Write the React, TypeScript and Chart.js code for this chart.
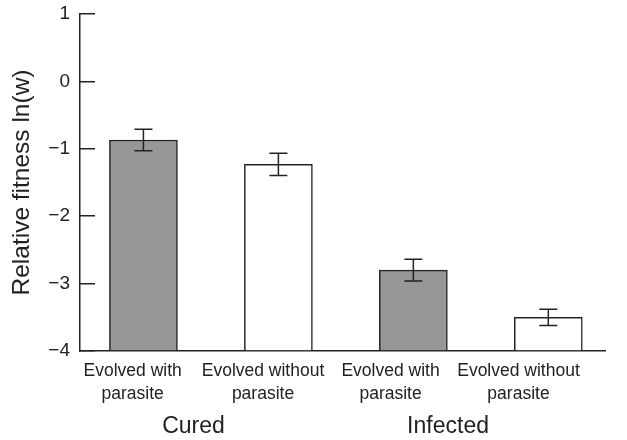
import React, { useEffect, useRef } from "react";
import { Chart, registerables } from "chart.js";

Chart.register(...registerables);

// ---- data ----
const barPositions = [0, 1, 2, 3];
const barLabels = [
  ["Evolved with", "parasite"],
  ["Evolved without", "parasite"],
  ["Evolved with", "parasite"],
  ["Evolved without", "parasite"],
];
const labelPositions = [-0.08, 0.886, 1.831, 2.779];
const groupLabels = ["Cured", "Infected"];
const groupPositions = [0.371, 2.257];
const fitness = [-0.87, -1.23, -2.8, -3.5];
const fitnessErr = [0.16, 0.165, 0.16, 0.12];
const barColors = ["#979797", "#ffffff", "#979797", "#ffffff"];
const yTicks = [-4, -3, -2, -1, 0, 1];

const FONT = "'Liberation Sans', Arial, Helvetica, sans-serif";
const INK = "#222222";

const errorBarPlugin = {
  id: "errorBars",
  afterDatasetsDraw(chart: any) {
    const xs = chart.scales.x;
    const ys = chart.scales.y;
    const ctx = chart.ctx;
    ctx.save();
    ctx.strokeStyle = INK;
    ctx.lineWidth = 1.5;
    const cap = 9;
    fitness.forEach((v, i) => {
      const x = xs.getPixelForValue(barPositions[i]);
      const y1 = ys.getPixelForValue(v + fitnessErr[i]);
      const y2 = ys.getPixelForValue(v - fitnessErr[i]);
      ctx.beginPath();
      ctx.moveTo(x, y1);
      ctx.lineTo(x, y2);
      ctx.moveTo(x - cap, y1);
      ctx.lineTo(x + cap, y1);
      ctx.moveTo(x - cap, y2);
      ctx.lineTo(x + cap, y2);
      ctx.stroke();
    });
    ctx.restore();
  },
};

export default function App() {
  const ref = useRef<HTMLCanvasElement | null>(null);
  useEffect(() => {
    document.body.style.margin = "0";
    const canvas = ref.current!;
    const chart = new Chart(canvas, {
      type: "bar",
      data: {
        datasets: [
          {
            data: fitness.map((v, i) => ({ x: barPositions[i], y: v })),
            base: -4,
            backgroundColor: barColors,
            borderColor: INK,
            borderWidth: 1.5,
            barThickness: 68,
          } as any,
        ],
      },
      options: {
        responsive: false,
        animation: false,
        layout: { padding: { top: 14, right: 22, left: 0, bottom: 0 } },
        plugins: {
          legend: { display: false },
          tooltip: { enabled: false },
        },
        scales: {
          x: {
            type: "linear",
            position: "bottom",
            offset: false,
            weight: 0,
            min: -0.47,
            max: 3.42,
            grid: { display: false, drawTicks: false, offset: false },
            border: { display: true, color: INK, width: 1.5 },
            afterBuildTicks: (s: any) => {
              s.ticks = labelPositions.map((v) => ({ value: v }));
            },
            afterFit: (s: any) => {
              s.height = 55;
              s.paddingLeft = 0;
              s.paddingRight = 0;
            },
            ticks: {
              autoSkip: false,
              maxRotation: 0,
              padding: 8.5,
              color: INK,
              font: { family: FONT, size: 17.5, lineHeight: 23 / 17.5 },
              callback: (_v: any, i: number) => barLabels[i],
            },
          },
          x2: {
            type: "linear",
            position: "bottom",
            offset: false,
            weight: 1,
            min: -0.47,
            max: 3.42,
            grid: { display: false, drawTicks: false, offset: false },
            border: { display: false },
            afterBuildTicks: (s: any) => {
              s.ticks = groupPositions.map((v) => ({ value: v }));
            },
            afterFit: (s: any) => {
              s.height = 34;
              s.paddingLeft = 0;
              s.paddingRight = 0;
            },
            ticks: {
              autoSkip: false,
              maxRotation: 0,
              padding: 7,
              color: INK,
              font: { family: FONT, size: 23 },
              callback: (_v: any, i: number) => groupLabels[i],
            },
          },
          y: {
            type: "linear",
            min: -4,
            max: 1,
            afterBuildTicks: (s: any) => {
              s.ticks = yTicks.map((v) => ({ value: v }));
            },
            afterFit: (s: any) => {
              s.width = 80;
              s.paddingTop = 0;
              s.paddingBottom = 0;
            },
            grid: {
              display: true,
              drawOnChartArea: false,
              drawTicks: true,
              tickLength: -15,
              color: INK,
              lineWidth: 1.5,
            },
            border: { display: true, color: INK, width: 1.5 },
            title: {
              display: true,
              text: "Relative fitness ln(w)",
              color: INK,
              font: { family: FONT, size: 24.5 },
              padding: { top: 8, bottom: 0 },
            },
            ticks: {
              padding: 25,
              color: INK,
              font: { family: FONT, size: 19 },
              callback: (v: any) => String(v).replace("-", "\u2212"),
            },
          },
        },
      },
      plugins: [errorBarPlugin],
    });
    return () => chart.destroy();
  }, []);
  return <canvas ref={ref} width={627} height={440} style={{ display: "block" }} />;
}
